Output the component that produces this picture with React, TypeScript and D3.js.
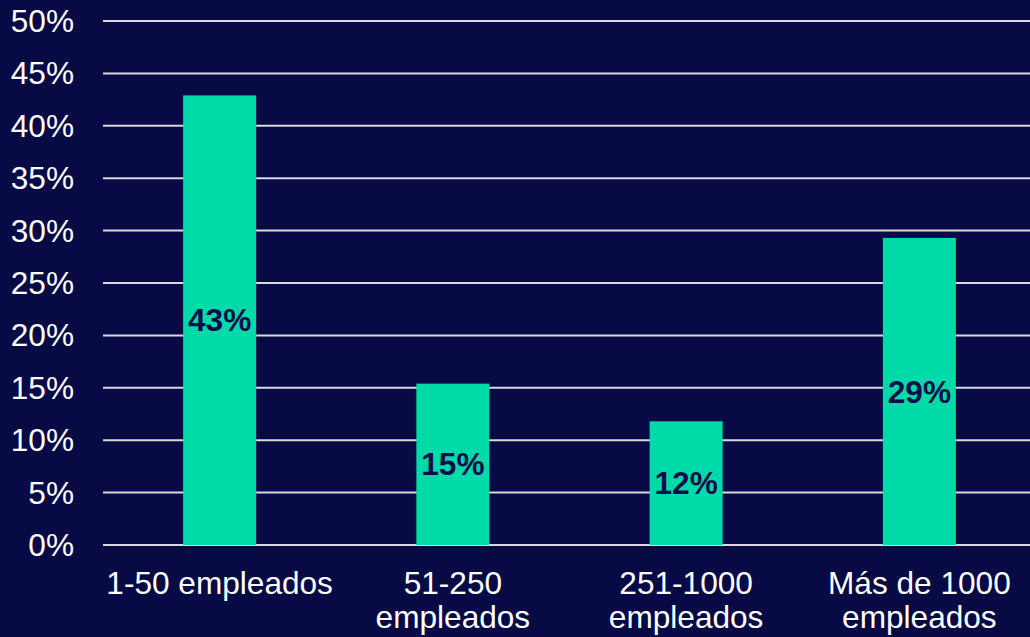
import React from "react";
import * as d3 from "d3";

const categories: string[][] = [
  ["1-50 empleados"],
  ["51-250", "empleados"],
  ["251-1000", "empleados"],
  ["Más de 1000", "empleados"],
];
const values: number[] = [0.429, 0.154, 0.118, 0.293];
const valueLabels: string[] = ["43%", "15%", "12%", "29%"];
const yTicks: number[] = [0, 0.05, 0.1, 0.15, 0.2, 0.25, 0.3, 0.35, 0.4, 0.45, 0.5];

const W = 1030;
const H = 637;
const BG = "#070a45";
const BAR = "#00d9a8";
const FONT = "'Liberation Sans', Arial, sans-serif";
const FS = 31.6;

export default function App() {
  const x = d3
    .scaleBand<number>()
    .domain(categories.map((_, i) => i))
    .range([103, 1036])
    .padding(0);
  const y = d3.scaleLinear().domain([0, 0.5]).range([545, 21]);
  const barW = x.step() * 0.313;
  const fmt = d3.format(".0%");

  return (
    <svg
      width={W}
      height={H}
      style={{ position: "fixed", left: 0, top: 0, display: "block" }}
    >
      <rect x={0} y={0} width={W} height={H} fill={BG} />
      {yTicks.map((t) => (
        <g key={t}>
          <line
            x1={103}
            x2={W}
            y1={y(t)}
            y2={y(t)}
            stroke="#d9d9d9"
            strokeWidth={2}
          />
          <text
            x={74}
            y={y(t)}
            dy="0.35em"
            textAnchor="end"
            fill="#ffffff"
            fontFamily={FONT}
            fontSize={FS}
          >
            {fmt(t)}
          </text>
        </g>
      ))}
      {values.map((v, i) => {
        const cx = (x(i) as number) + x.bandwidth() / 2;
        return (
          <g key={i}>
            <rect
              x={cx - barW / 2}
              y={y(v)}
              width={barW}
              height={y(0) - y(v)}
              fill={BAR}
            />
            <text
              x={cx}
              y={(y(v) + y(0)) / 2}
              dy="0.35em"
              textAnchor="middle"
              fill="#0b0d4a"
              fontFamily={FONT}
              fontWeight="bold"
              fontSize={FS}
            >
              {valueLabels[i]}
            </text>
            <text
              x={cx}
              textAnchor="middle"
              fill="#ffffff"
              fontFamily={FONT}
              fontSize={FS}
            >
              {categories[i].map((line, j) => (
                <tspan key={j} x={cx} y={594 + j * 34}>
                  {line}
                </tspan>
              ))}
            </text>
          </g>
        );
      })}
    </svg>
  );
}
